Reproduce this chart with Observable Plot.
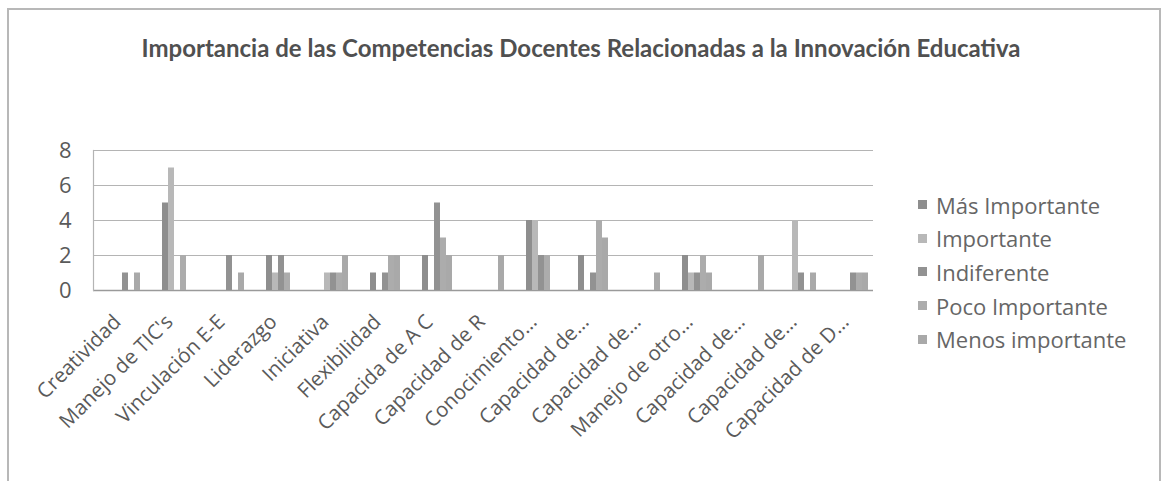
<!DOCTYPE html>
<html><head><meta charset="utf-8">
<script src="https://cdn.jsdelivr.net/npm/d3@7"></script>
<script src="https://cdn.jsdelivr.net/npm/@observablehq/plot@0.6"></script>
<style>
body{margin:0;background:#fff;}
#wrap{position:relative;width:1162px;height:481px;overflow:hidden;font-family:"Open Sans",Lato,sans-serif;}
#border{position:absolute;left:7px;top:8px;width:1150px;height:520px;border:2px solid #b8b8b8;}
#title{position:absolute;top:33px;left:0;width:1162px;text-align:center;font-family:Lato,sans-serif;font-weight:bold;font-size:24px;color:#505050;}
.layer{position:absolute;left:0;top:0;}
#legend{position:absolute;left:918px;top:188px;color:#666;font-size:22px;}
#legend .row{height:33.6px;display:flex;align-items:center;}
#legend .sw{width:9px;height:9px;margin-right:9px;}
</style></head>
<body>
<div id="wrap">
  <div id="border"></div>
  <div id="title">Importancia de las Competencias Docentes Relacionadas a la Innovación Educativa</div>
  <div id="base" class="layer"></div>
  <div id="bars" class="layer"></div>
  <div id="legend"></div>
</div>
<script>
const categories = ["Creatividad","Manejo de TIC's","Vinculación E-E","Liderazgo","Iniciativa","Flexibilidad","Capacida de A C","Capacidad de R","Conocimiento...","Capacidad de...","Capacidad de... ","Manejo de otro...","Capacidad de...  ","Capacidad de...   ","Capacidad de D..."];
const series = ["Más Importante","Importante","Indiferente","Poco Importante","Menos importante"];
const masImportante   = [0,5,0,2,0,1,2,0,4,2,0,2,0,0,0];
const importante      = [0,7,0,1,1,0,0,0,4,0,0,1,0,4,0];
const indiferente     = [1,0,2,2,1,1,5,0,2,1,0,1,0,1,1];
const pocoImportante  = [0,2,0,1,1,2,3,0,2,4,0,2,0,0,1];
const menosImportante = [1,0,1,0,2,2,2,2,0,3,1,1,2,1,1];
const yTicks = [0,2,4,6,8];
const colors = ["#8e8e8e","#b8b8b8","#929292","#acacac","#a9a9a9"];

const valuesBySeries = [masImportante, importante, indiferente, pocoImportante, menosImportante];
const rows = [];
categories.forEach((c, i) => series.forEach((s, j) => rows.push({category: c, series: s, value: valuesBySeries[j][i]})));

const W = 1162, H = 481, ML = 93, MR = 1162 - 873, MT = 150, MB = 481 - 290;
const band = {domain: categories, paddingInner: 0.356, paddingOuter: 0.178, align: 0.81};

const base = Plot.plot({
  width: W, height: H, marginLeft: ML, marginRight: MR, marginTop: MT, marginBottom: MB,
  style: {fontFamily: "'Open Sans', Lato, sans-serif", fontSize: "20px", color: "#5a5a5a", background: "transparent", overflow: "visible"},
  x: {...band, label: null},
  y: {domain: [0, 8], label: null},
  marks: [
    Plot.ruleY(yTicks.slice(1), {stroke: "#b4b4b4", strokeWidth: 1.2}),
    Plot.ruleY([0], {stroke: "#9a9a9a", strokeWidth: 1.5}),
    Plot.frame({anchor: "left", stroke: "#b4b4b4", strokeWidth: 1.2}),
    Plot.axisY(yTicks, {tickSize: 0, tickPadding: 22, fontSize: 22, label: null, fill: "#5a5a5a"}),
    Plot.axisX({tickRotate: -45, tickSize: 0, tickPadding: 14, fontSize: 20.5, dx: -18, dy: 14, label: null, fill: "#5a5a5a", tickFormat: d => d.trim()})
  ]
});
document.getElementById("base").appendChild(base);

const bars = Plot.plot({
  width: W, height: H, marginLeft: ML, marginRight: MR, marginTop: MT, marginBottom: MB,
  style: {background: "transparent"},
  facet: {data: rows, x: "category"},
  fx: {...band, axis: null, label: null},
  x: {domain: series, padding: 0, axis: null, label: null},
  y: {domain: [0, 8], axis: null, label: null},
  color: {domain: series, range: colors},
  marks: [Plot.barY(rows, {x: "series", y: "value", fill: "series"})]
});
document.getElementById("bars").appendChild(bars);

const lg = document.getElementById("legend");
series.forEach((s, j) => {
  const r = document.createElement("div"); r.className = "row";
  const sw = document.createElement("div"); sw.className = "sw"; sw.style.background = colors[j];
  const t = document.createElement("span"); t.textContent = s;
  r.appendChild(sw); r.appendChild(t); lg.appendChild(r);
});
</script>
</body></html>
